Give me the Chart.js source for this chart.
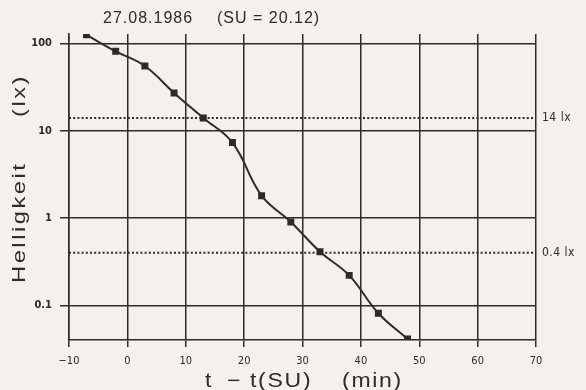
<!DOCTYPE html>
<html>
<head>
<meta charset="utf-8">
<script src="https://cdn.jsdelivr.net/npm/chart.js@4/dist/chart.umd.min.js"></script>
<style>
    html, body { margin: 0; padding: 0; background: #f3f1ec; }
    #wrap { width: 586px; height: 390px; }
</style>
</head>
<body>
<div id="wrap"><canvas id="helligkeitChart"></canvas></div>
<script>
// Minuten relativ zum Sonnenuntergang und gemessene Helligkeit (lx)
const minutes = [-7, -2, 3, 8, 13, 18, 23, 28, 33, 38, 43, 48];
const lux = [125, 81, 55, 27, 14, 7.3, 1.8, 0.9, 0.41, 0.22, 0.081, 0.041];

const xTicks = [-10, 0, 10, 20, 30, 40, 50, 60, 70];
const yTicks = [0.1, 1, 10, 100];

// Referenzlinien
const refValues = [14, 0.4];
const refLabels = ['14 lx', '0.4 lx'];

const titleParts = ['27.08.1986', '(SU = 20.12)'];
const xTitleParts = ['t', '\u2212', 't(SU)', '(min)'];
const yTitleParts = ['Helligkeit', '(lx)'];

const ink = '#2b2b2b';
const sans = '"Liberation Sans", Arial, sans-serif';
const narrow = '"DejaVu Sans Condensed", "DejaVu Sans", sans-serif';

const points = minutes.map((m, i) => ({ x: m, y: lux[i] }));

const refSets = refValues.map(v => ({
    data: [{ x: xTicks[0], y: v }, { x: xTicks[xTicks.length - 1], y: v }],
    borderColor: ink,
    borderWidth: 2,
    borderDash: [2, 2.2],
    pointRadius: 0,
    tension: 0
}));

// breite, gesperrte Schrift wie im Original
function wideText(ctx, text, x, y, stretch, spacing, vertical) {
    ctx.save();
    ctx.translate(x, y);
    if (vertical) ctx.rotate(-Math.PI / 2);
    ctx.scale(stretch, 1);
    ctx.letterSpacing = spacing + 'px';
    ctx.fillText(text, 0, 0);
    ctx.restore();
}

const textPlugin = {
    id: 'extraText',
    afterDraw(chart) {
        const ctx = chart.ctx;
        const y = chart.scales.y;
        const area = chart.chartArea;
        ctx.save();
        ctx.fillStyle = ink;
        ctx.textAlign = 'left';
        ctx.textBaseline = 'alphabetic';

        // Titel
        ctx.font = '16px ' + sans;
        wideText(ctx, titleParts[0], 103, 23, 1, 1, false);
        wideText(ctx, titleParts[1], 217, 23, 1, 1, false);

        // x-Achsentitel
        ctx.font = '20px ' + sans;
        const xPos = [205, 227, 250, 342];
        xTitleParts.forEach((t, i) => wideText(ctx, t, xPos[i], 387, 1.15, 1.5, false));

        // y-Achsentitel (gedreht)
        ctx.font = '19px ' + sans;
        const yPos = [283, 117];
        yTitleParts.forEach((t, i) => wideText(ctx, t, 25, yPos[i], 1.25, 2, true));

        // Beschriftung der Referenzlinien
        ctx.font = '12px ' + narrow;
        ctx.textBaseline = 'middle';
        refValues.forEach((v, i) => {
            wideText(ctx, refLabels[i], area.right + 6, y.getPixelForValue(v), 1, 0.5, false);
        });
        ctx.restore();
    }
};

const config = {
    type: 'line',
    data: {
        datasets: [{
            data: points,
            borderColor: ink,
            backgroundColor: ink,
            borderWidth: 2,
            pointStyle: 'rect',
            pointRadius: 3.5,
            tension: 0.4
        }, ...refSets]
    },
    options: {
        responsive: true,
        maintainAspectRatio: false,
        animation: false,
        layout: {
            padding: { top: 34, right: 50, left: 0, bottom: 0 }
        },
        plugins: {
            legend: { display: false },
            tooltip: { enabled: false },
            title: { display: false }
        },
        scales: {
            x: {
                type: 'linear',
                min: -10,
                max: 70,
                afterBuildTicks: scale => {
                    scale.ticks = xTicks.map(v => ({ value: v }))
                },
                afterFit: scale => { scale.height = 50 },
                grid: {
                    color: ink,
                    lineWidth: 1.5,
                    tickLength: 7
                },
                border: { color: ink, width: 1.5 },
                ticks: {
                    color: ink,
                    padding: 8,
                    maxRotation: 0,
                    font: { family: narrow, size: 11 },
                    callback: v => String(v).replace('-', '\u2212')
                },
                title: { display: false }
            },
            y: {
                type: 'logarithmic',
                min: 0.04,
                max: 128,
                afterBuildTicks: scale => {
                    scale.ticks = yTicks.map(v => ({ value: v }))
                },
                afterFit: scale => { scale.width = 69 },
                grid: {
                    color: ink,
                    lineWidth: 1.5,
                    tickLength: 9
                },
                border: { color: ink, width: 1.5 },
                ticks: {
                    color: ink,
                    padding: 8,
                    font: { family: narrow, size: 11, weight: 'bold' },
                    callback: v => String(v)
                },
                title: { display: false }
            }
        }
    },
    plugins: [textPlugin]
};

new Chart(document.getElementById('helligkeitChart'), config);
</script>
</body>
</html>
